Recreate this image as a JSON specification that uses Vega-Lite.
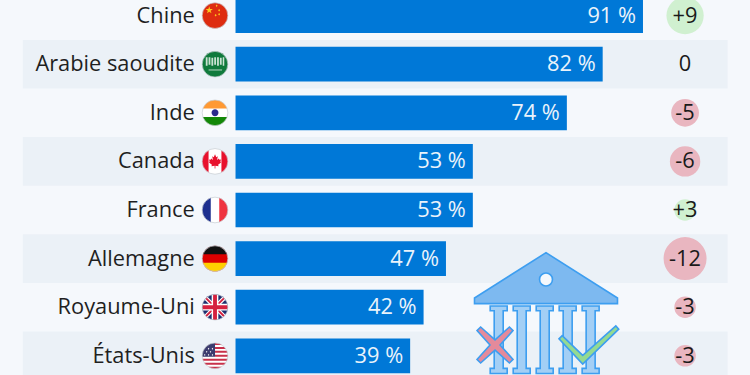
{"$schema":"https://vega.github.io/schema/vega-lite/v6.json","width":750,"height":375,"autosize":"none","padding":0,"background":"#f5f8fc","config":{"view":{"stroke":null},"text":{"font":"Open Sans"}},
"datasets":{
"lignes":[
{"pays":"Chine","rang":1,"part":91,"etiquette":"91 %","variation":"+9","ampleur":9,"sens":"hausse"},
{"pays":"Arabie saoudite","rang":2,"part":82,"etiquette":"82 %","variation":"0","ampleur":0,"sens":"nul"},
{"pays":"Inde","rang":3,"part":74,"etiquette":"74 %","variation":"-5","ampleur":5,"sens":"baisse"},
{"pays":"Canada","rang":4,"part":53,"etiquette":"53 %","variation":"-6","ampleur":6,"sens":"baisse"},
{"pays":"France","rang":5,"part":53,"etiquette":"53 %","variation":"+3","ampleur":3,"sens":"hausse"},
{"pays":"Allemagne","rang":6,"part":47,"etiquette":"47 %","variation":"-12","ampleur":12,"sens":"baisse"},
{"pays":"Royaume-Uni","rang":7,"part":42,"etiquette":"42 %","variation":"-3","ampleur":3,"sens":"baisse"},
{"pays":"États-Unis","rang":8,"part":39,"etiquette":"39 %","variation":"-3","ampleur":3,"sens":"baisse"}],
"drapeaux":[
{"pays":"Chine","piece":"cn-fond"},{"pays":"Chine","piece":"cn-etoile"},{"pays":"Chine","piece":"cn-petites"},
{"pays":"Arabie saoudite","piece":"sa-fond"},{"pays":"Arabie saoudite","piece":"sa-texte"},{"pays":"Arabie saoudite","piece":"sa-sabre"},
{"pays":"Inde","piece":"blanc"},{"pays":"Inde","piece":"in-haut"},{"pays":"Inde","piece":"in-bas"},{"pays":"Inde","piece":"in-roue"},
{"pays":"Canada","piece":"blanc"},{"pays":"Canada","piece":"ca-gauche"},{"pays":"Canada","piece":"ca-droite"},{"pays":"Canada","piece":"ca-feuille"},
{"pays":"France","piece":"blanc"},{"pays":"France","piece":"fr-bleu"},{"pays":"France","piece":"fr-rouge"},
{"pays":"Allemagne","piece":"de-rouge"},{"pays":"Allemagne","piece":"de-noir"},{"pays":"Allemagne","piece":"de-or"},
{"pays":"Royaume-Uni","piece":"uk-bleu"},{"pays":"Royaume-Uni","piece":"uk-diag-blanc"},{"pays":"Royaume-Uni","piece":"uk-diag-rouge"},{"pays":"Royaume-Uni","piece":"uk-croix-blanc"},{"pays":"Royaume-Uni","piece":"uk-croix-rouge"},
{"pays":"États-Unis","piece":"blanc"},{"pays":"États-Unis","piece":"us-rayures"},{"pays":"États-Unis","piece":"us-canton"},{"pays":"États-Unis","piece":"us-etoiles"}],
"icone":[{"piece":"colonnes"},{"piece":"fronton"},{"piece":"oculus"},{"piece":"croix"},{"piece":"coche"}]
},
"encoding":{"y":{"field":"pays","type":"nominal","axis":null,"sort":null,"scale":{"type":"band","domain":["Chine","Arabie saoudite","Inde","Canada","France","Allemagne","Royaume-Uni","États-Unis"],"range":[-8.7,380.1],"paddingInner":0,"paddingOuter":0}}},
"layer":[
{"data":{"name":"lignes"},"transform":[{"filter":"datum.rang % 2 == 0"}],"mark":{"type":"rect","color":"#ebf1f7"},"encoding":{"x":{"datum":-47.5,"type":"quantitative","axis":null,"scale":{"domain":[-52.6,114.9],"range":[0,750],"nice":false,"zero":false}},"x2":{"datum":109.9}}},
{"data":{"name":"lignes"},"mark":{"type":"bar","color":"#0078d7","height":{"band":0.715}},"encoding":{"x":{"field":"part","type":"quantitative"}}},
{"data":{"name":"lignes"},"mark":{"type":"text","align":"right","baseline":"middle","dx":-7,"fontSize":21.8,"color":"#eaf3fb"},"encoding":{"x":{"field":"part","type":"quantitative"},"text":{"field":"etiquette"}}},
{"data":{"name":"lignes"},"transform":[{"filter":"datum.ampleur > 0"}],"mark":{"type":"point","filled":true,"opacity":1},"encoding":{"x":{"datum":100.4,"type":"quantitative"},"shape":{"value":"circle"},"size":{"field":"ampleur","type":"quantitative","legend":null,"scale":{"domain":[0,12],"range":[0,1850]}},"color":{"field":"sens","type":"nominal","legend":null,"scale":{"domain":["hausse","baisse"],"range":["#d0f0d0","#e9b6c0"]}}}},
{"data":{"name":"lignes"},"mark":{"type":"text","align":"center","baseline":"middle","fontSize":21.8,"color":"#1a1a1a"},"encoding":{"x":{"datum":100.4,"type":"quantitative"},"text":{"field":"variation"}}},
{"data":{"name":"lignes"},"mark":{"type":"text","align":"right","baseline":"middle","fontSize":21.8,"color":"#1f1f1f"},"encoding":{"x":{"datum":-9.1,"type":"quantitative"},"text":{"field":"pays"}}},
{"data":{"name":"drapeaux"},"mark":{"type":"point","filled":true,"opacity":1,"size":660},"encoding":{"x":{"datum":-4.58,"type":"quantitative"},
"shape":{"field":"piece","type":"nominal","legend":null,"scale":{"domain":["blanc","cn-fond","cn-etoile","cn-petites","sa-fond","sa-texte","sa-sabre","in-haut","in-bas","in-roue","ca-gauche","ca-droite","ca-feuille","fr-bleu","fr-rouge","de-rouge","de-noir","de-or","uk-bleu","uk-diag-blanc","uk-diag-rouge","uk-croix-blanc","uk-croix-rouge","us-rayures","us-canton","us-etoiles"],
"range":["circle","circle","M-.45 -.72L-.383 -.513L-.165 -.513L-.341 -.385L-.274 -.177L-.45 -.305L-.626 -.177L-.559 -.385L-.735 -.513L-.517 -.513Z","M.13 -.86L.2 -.76L.13 -.66L.06 -.76ZM.32 -.52L.4 -.42L.32 -.32L.24 -.42ZM.32 -.2L.4 -.1L.32 0L.24 -.1ZM.05 -.13L.13 -.03L.05 .07L-.03 -.03Z","circle","M-.72 -.55L-.58 -.55L-.58 .12L-.72 .12ZM-.5 -.55L-.36 -.55L-.36 .05L-.5 .05ZM-.28 -.5L-.14 -.5L-.14 .12L-.28 .12ZM-.06 -.55L.08 -.55L.08 .05L-.06 .05ZM.16 -.55L.3 -.55L.3 .12L.16 .12ZM.38 -.5L.52 -.5L.52 .05L.38 .05ZM.6 -.55L.72 -.55L.72 .12L.6 .12Z","M-.5 .42L.55 .42L.55 .48L-.5 .48Z","M-.944 -.33A1 1 0 0 1 .944 -.33Z","M.944 .33A1 1 0 0 1 -.944 .33Z","M-.27 0A.27 .27 0 1 1 .27 0A.27 .27 0 1 1 -.27 0Z","M-.5 -.866A1 1 0 0 0 -.5 .866Z","M.5 .866A1 1 0 0 0 .5 -.866Z","M0 -.55L.1 -.33L.22 -.4L.16 -.1L.3 -.22L.34 -.12L.46 -.14L.42 .02L.47 .08L.24 .27L.28 .38L.03 .34L.03 .55L-.03 .55L-.03 .34L-.28 .38L-.24 .27L-.47 .08L-.42 .02L-.46 -.14L-.34 -.12L-.3 -.22L-.16 -.1L-.22 -.4L-.1 -.33Z","M-.33 -.944A1 1 0 0 0 -.33 .944Z","M.33 .944A1 1 0 0 0 .33 -.944Z","circle","M-.944 -.33A1 1 0 0 1 .944 -.33Z","M.944 .33A1 1 0 0 1 -.944 .33Z","circle","M-.585 -.811L-.811 -.585L.585 .811L.811 .585ZM.585 -.811L.811 -.585L-.585 .811L-.811 .585Z","M-.655 -.755L-.755 -.655L.655 .755L.755 .655ZM.655 -.755L.755 -.655L-.655 .755L-.755 .655Z","M-.26 -.965L.26 -.965L.26 -.26L.965 -.26L.965 .26L.26 .26L.26 .965L-.26 .965L-.26 .26L-.965 .26L-.965 -.26L-.26 -.26Z","M-.15 -.988L.15 -.988L.15 -.15L.988 -.15L.988 .15L.15 .15L.15 .988L-.15 .988L-.15 .15L-.988 .15L-.988 -.15L-.15 -.15Z","M0 -1A1 1 0 0 1 .533 -.846L0 -.846ZM0 -.692L.722 -.692L.843 -.538L0 -.538ZM0 -.385L.923 -.385L.973 -.231L0 -.231ZM0 -.077L.997 -.077L.997 .077L0 .077ZM-.973 .231L.973 .231L.923 .385L-.923 .385ZM-.843 .538L.843 .538L.722 .692L-.722 .692ZM-.533 .846L.533 .846A1 1 0 0 1 -.533 .846Z","M0 .077L-.997 .077A1 1 0 0 1 0 -1Z","M-.5 -.62L-.44 -.55L-.5 -.48L-.56 -.55ZM-.2 -.62L-.14 -.55L-.2 -.48L-.26 -.55ZM-.35 -.38L-.29 -.31L-.35 -.24L-.41 -.31ZM-.65 -.38L-.59 -.31L-.65 -.24L-.71 -.31ZM-.5 -.14L-.44 -.07L-.5 0L-.56 -.07ZM-.2 -.14L-.14 -.07L-.2 0L-.26 -.07ZM-.8 -.14L-.74 -.07L-.8 0L-.86 -.07Z"]}},
"color":{"field":"piece","type":"nominal","legend":null,"scale":{"domain":["blanc","cn-fond","cn-etoile","cn-petites","sa-fond","sa-texte","sa-sabre","in-haut","in-bas","in-roue","ca-gauche","ca-droite","ca-feuille","fr-bleu","fr-rouge","de-rouge","de-noir","de-or","uk-bleu","uk-diag-blanc","uk-diag-rouge","uk-croix-blanc","uk-croix-rouge","us-rayures","us-canton","us-etoiles"],
"range":["#ffffff","#de2c10","#ffc81e","#ffc81e","#0f7a3c","#c9e2d2","#e6f2ea","#ff9933","#138808","#2a2a8c","#e8112d","#e8112d","#e8112d","#1d2f8f","#ef3340","#dd0000","#111111","#ffce00","#1d2f6f","#ffffff","#d5213f","#ffffff","#d5213f","#c8304a","#3c3b6e","#ffffff"]}}}},
{"data":{"name":"lignes"},"mark":{"type":"point","filled":false,"opacity":1,"size":660,"stroke":"#c6cbd1","strokeWidth":0.7,"shape":"circle"},"encoding":{"x":{"datum":-4.58,"type":"quantitative"}}},
{"data":{"name":"icone"},"mark":{"type":"point","filled":true,"opacity":1,"size":20736,"stroke":"#3d9ef0","strokeWidth":1.6},"encoding":{"x":{"datum":69.34,"type":"quantitative"},"y":{"datum":"Royaume-Uni","type":"nominal"},
"shape":{"field":"piece","type":"nominal","legend":null,"scale":{"domain":["colonnes","fronton","oculus","croix","coche"],"range":[
"M-.775 -.017L-.539 -.017L-.539 .05L-.5945 .05L-.5945 .85L-.539 .85L-.539 .92L-.775 .92L-.775 .85L-.7195 .85L-.7195 .05L-.775 .05ZM-.4555 -.017L-.2195 -.017L-.2195 .05L-.275 .05L-.275 .85L-.2195 .85L-.2195 .92L-.4555 .92L-.4555 .85L-.4 .85L-.4 .05L-.4555 .05ZM-.136 -.017L.1 -.017L.1 .05L.0445 .05L.0445 .85L.1 .85L.1 .92L-.136 .92L-.136 .85L-.0805 .85L-.0805 .05L-.136 .05ZM.183 -.017L.419 -.017L.419 .05L.3635 .05L.3635 .85L.419 .85L.419 .92L.183 .92L.183 .85L.2385 .85L.2385 .05L.183 .05ZM.502 -.017L.738 -.017L.738 .05L.6825 .05L.6825 .85L.738 .85L.738 .92L.502 .92L.502 .85L.5575 .85L.5575 .05L.502 .05Z",
"M0 -.757L.993 -.128L.993 -.05L-.993 -.05L-.993 -.128Z",
"M-.09 -.385A.09 .09 0 1 1 .09 -.385A.09 .09 0 1 1 -.09 -.385Z",
"M-.958 .325L-.908 .275L-.708 .455L-.508 .275L-.458 .325L-.638 .525L-.458 .725L-.508 .775L-.708 .595L-.908 .775L-.958 .725L-.778 .525Z",
"M.18 .44L.225 .395L.51 .67L.97 .26L1.01 .305L.51 .79Z"]}},
"color":{"field":"piece","type":"nominal","legend":null,"scale":{"domain":["colonnes","fronton","oculus","croix","coche"],"range":["#a3cff5","#7db9f0","#f5f8fc","#e48a9b","#93da92"]}}}}
],
"resolve":{"scale":{"shape":"independent","color":"independent"}}
}
